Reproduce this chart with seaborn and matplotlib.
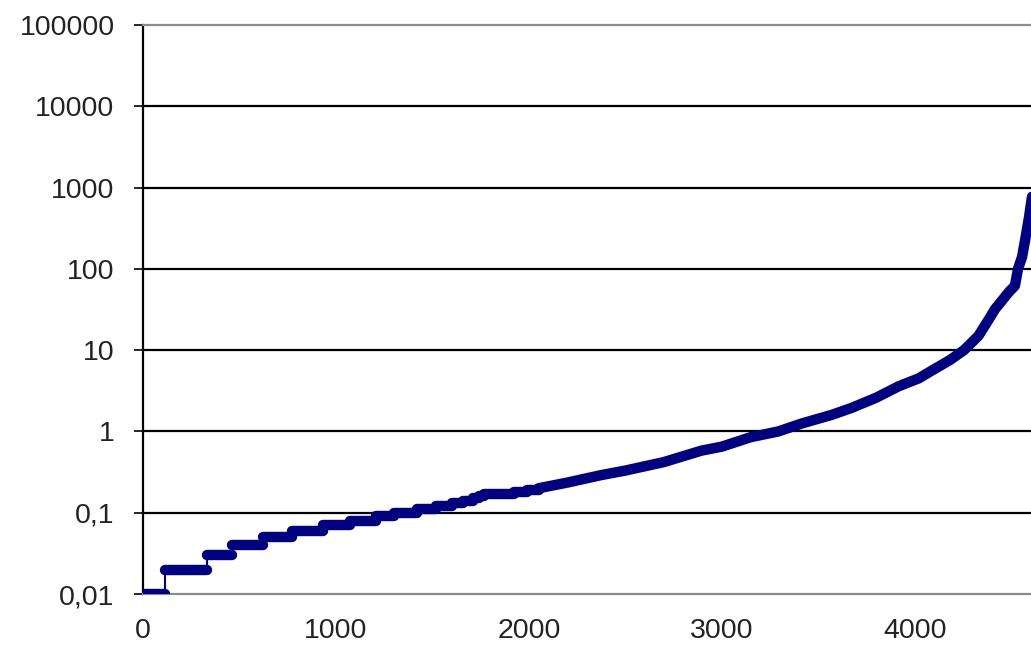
import numpy as np
import pandas as pd
import matplotlib
matplotlib.use("Agg")
import matplotlib.pyplot as plt
import seaborn as sns

# Step part (values rounded to 0.01): start of each step and its value
step_x = [0, 114, 332, 462, 623, 774, 935, 1075, 1205, 1300, 1420, 1520, 1600, 1660, 1710, 1740, 1766, 1922, 1990, 2050]
step_y = [0.01, 0.02, 0.03, 0.04, 0.05, 0.06, 0.07, 0.08, 0.09, 0.10, 0.11, 0.12, 0.13, 0.14, 0.15, 0.16, 0.17, 0.18, 0.19, 0.20]

# Smooth upper part of the sorted series
curve_x = [2050, 2200, 2374, 2500, 2700, 2894, 3000, 3150, 3293, 3413, 3570, 3673, 3800, 3917,
           4021, 4088, 4180, 4255, 4330, 4384, 4416, 4488, 4519, 4535, 4556, 4575, 4592, 4613]
curve_y = [0.20, 0.235, 0.29, 0.33, 0.42, 0.58, 0.65, 0.85, 1.0, 1.25, 1.6, 1.95, 2.6, 3.6,
           4.5, 5.6, 7.5, 10, 15, 24, 32, 52, 62, 100, 140, 250, 430, 950]

y_ticks = [0.01, 0.1, 1, 10, 100, 1000, 10000, 100000]
y_tick_labels = ["0,01", "0,1", "1", "10", "100", "1000", "10000", "100000"]
x_ticks = [0, 1000, 2000, 3000, 4000]
x_tick_labels = ["0", "1000", "2000", "3000", "4000"]

sns.set_style("white")
plt.rcParams["font.family"] = ["Liberation Sans", "DejaVu Sans"]

NAVY = "#000080"
fig = plt.figure(figsize=(10.31, 6.5), dpi=100)
ax = fig.add_axes([143 / 1031, 1 - 594 / 650, 1 - 143 / 1031 + 0.002, (594 - 25) / 650])

# decade lines
for v in y_ticks[1:-1]:
    ax.axhline(v, color="black", lw=1.6, zorder=1)

# thin step line
df_step = pd.DataFrame({"x": step_x, "y": step_y})
sns.lineplot(data=df_step, x="x", y="y", ax=ax, color=NAVY, lw=1.5,
             drawstyle="steps-post", estimator=None, sort=False, zorder=3)
# thick horizontal bars for each step
step_end = step_x[1:] + [curve_x[0]]
hl = ax.hlines(step_y, step_x, step_end, colors=NAVY, lw=7.5, zorder=3)
hl.set_capstyle("round")

df_curve = pd.DataFrame({"x": curve_x, "y": curve_y})
sns.lineplot(data=df_curve, x="x", y="y", ax=ax, color=NAVY, lw=7.5,
             estimator=None, sort=False, zorder=3,
             solid_capstyle="round", solid_joinstyle="round")

ax.set_yscale("log")
ax.set_ylim(0.01, 100000)
ax.set_xlim(0, 4613)
ax.set_yticks(y_ticks)
ax.set_yticklabels(y_tick_labels)
ax.set_xticks(x_ticks)
ax.set_xticklabels(x_tick_labels)
ax.minorticks_off()
ax.set_xlabel("")
ax.set_ylabel("")

ax.spines["right"].set_visible(False)
ax.spines["left"].set_color("black")
ax.spines["left"].set_linewidth(1.6)
ax.spines["top"].set_color("#8c8c8c")
ax.spines["top"].set_linewidth(1.6)
ax.spines["bottom"].set_color("#8c8c8c")
ax.spines["bottom"].set_linewidth(1.6)

ax.tick_params(axis="y", which="major", left=True, length=6.5, width=1.2, color="black",
               pad=14, labelsize=20.5, labelcolor="#222222")
ax.tick_params(axis="x", which="major", bottom=False, length=0, pad=17,
               labelsize=20.5, labelcolor="#222222")

fig.savefig("out.png", dpi=100)
